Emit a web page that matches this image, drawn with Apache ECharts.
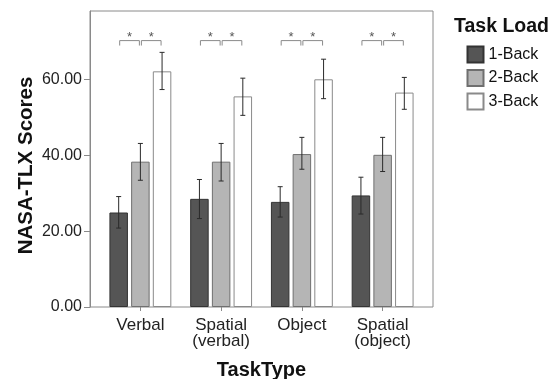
<!DOCTYPE html>
<html>
<head>
<meta charset="utf-8">
<script src="https://cdn.jsdelivr.net/npm/echarts@6/dist/echarts.min.js"></script>
<style>
  html, body { margin: 0; padding: 0; background: #fff; }
  #chart { width: 556px; height: 379px; }
</style>
</head>
<body>
<div id="chart"></div>
<script>
// Task types on the x axis and the three n-back load levels
const categories = ['Verbal', 'Spatial\n(verbal)', 'Object', 'Spatial\n(object)'];
const loads = ['1-Back', '2-Back', '3-Back'];

// Mean NASA-TLX scores per load level
const mean1Back = [24.9, 28.5, 27.7, 29.4];
const mean2Back = [38.3, 38.3, 40.3, 40.1];
const mean3Back = [62.1, 55.5, 60.0, 56.5];

// Error bar limits (lower / upper) per load level
const low1Back  = [20.8, 23.3, 23.7, 24.5];
const high1Back = [29.1, 33.6, 31.7, 34.2];
const low2Back  = [33.4, 33.2, 36.3, 35.7];
const high2Back = [43.1, 43.1, 44.7, 44.7];
const low3Back  = [57.3, 50.5, 54.9, 52.1];
const high3Back = [67.1, 60.3, 65.3, 60.5];

// Significance brackets: pairs of load levels compared within every task type
const sigPairs = [[0, 1], [1, 2]];
const sigLevel = 70.2;
const sigLabel = '*';

// Y axis ticks
const yTicks = [0, 20, 40, 60];
const yMax = 78;

// Bar geometry (pixels)
const barW = 18.5;
const gapPx = 3.2;

const fontFamily = '"Liberation Sans", Arial, Helvetica, sans-serif';

const means = [mean1Back, mean2Back, mean3Back];
const lows = [low1Back, low2Back, low3Back];
const highs = [high1Back, high2Back, high3Back];
const fills = ['#555555', '#b5b5b5', '#ffffff'];
const borders = ['#333333', '#6f6f6f', '#8a8a8a'];

const chart = echarts.init(document.getElementById('chart'), null, { renderer: 'canvas' });

const barSeries = loads.map((name, i) => ({
  name: name,
  type: 'bar',
  xAxisIndex: 1,
  yAxisIndex: 1,
  barWidth: barW,
  barGap: (gapPx / barW * 100).toFixed(1) + '%',
  itemStyle: { color: fills[i], borderColor: borders[i], borderWidth: 1 },
  emphasis: { disabled: true },
  data: means[i],
  z: 2
}));

const errorSeries = loads.map((name, i) => ({
  type: 'custom',
  xAxisIndex: 1,
  yAxisIndex: 1,
  z: 5,
  silent: true,
  encode: { x: 0, y: [1, 2] },
  data: categories.map((c, k) => [k, lows[i][k], highs[i][k]]),
  renderItem: function (params, api) {
    const off = (i - 1) * (barW + gapPx);
    const pLo = api.coord([api.value(0), api.value(1)]);
    const pHi = api.coord([api.value(0), api.value(2)]);
    const x = pLo[0] + off;
    const cap = 2.5;
    const style = { stroke: '#2a2a2a', lineWidth: 1 };
    return {
      type: 'group',
      children: [
        { type: 'line', shape: { x1: x, y1: pLo[1], x2: x, y2: pHi[1] }, style: style },
        { type: 'line', shape: { x1: x - cap, y1: pLo[1], x2: x + cap, y2: pLo[1] }, style: style },
        { type: 'line', shape: { x1: x - cap, y1: pHi[1], x2: x + cap, y2: pHi[1] }, style: style }
      ]
    };
  }
}));

const bracketData = [];
categories.forEach((c, k) => {
  sigPairs.forEach(p => bracketData.push([k, p[0], p[1], sigLevel]));
});

const bracketSeries = {
  type: 'custom',
  xAxisIndex: 1,
  yAxisIndex: 1,
  z: 6,
  silent: true,
  encode: { x: 0, y: 3 },
  data: bracketData,
  renderItem: function (params, api) {
    const step = barW + gapPx;
    const top = api.coord([api.value(0), api.value(3)]);
    const legEnd = api.coord([api.value(0), api.value(3) - 1.3])[1];
    const xa = top[0] + (api.value(1) - 1) * step + 1;
    const xb = top[0] + (api.value(2) - 1) * step - 1;
    return {
      type: 'group',
      children: [
        {
          type: 'polyline',
          shape: { points: [[xa, legEnd], [xa, top[1]], [xb, top[1]], [xb, legEnd]] },
          style: { stroke: '#8a8a8a', lineWidth: 1, fill: null }
        },
        {
          type: 'text',
          style: {
            text: sigLabel,
            x: (xa + xb) / 2,
            y: top[1] + 3,
            align: 'center',
            verticalAlign: 'bottom',
            fontSize: 13,
            fontFamily: fontFamily,
            fill: '#555'
          }
        }
      ]
    };
  }
};

const option = {
  animation: false,
  backgroundColor: '#ffffff',
  textStyle: { fontFamily: fontFamily },
  title: {
    text: 'Task Load',
    left: 454,
    top: 17,
    padding: 0,
    textStyle: { fontSize: 19.5, fontWeight: 'bold', color: '#111', fontFamily: fontFamily }
  },
  legend: {
    data: loads,
    orient: 'vertical',
    left: 466.5,
    top: 45.5,
    padding: 0,
    itemWidth: 16,
    itemHeight: 16,
    itemGap: 5.5,
    icon: 'rect',
    selectedMode: false,
    textStyle: { fontSize: 16, color: '#111', fontFamily: fontFamily }
  },
  grid: [
    // outer frame carrying the value axis
    { left: 90, right: 123, top: 11, bottom: 72, outerBoundsMode: 'none', containLabel: false, show: true, borderColor: '#8a8a8a', borderWidth: 1, backgroundColor: 'transparent' },
    // inner band holding the grouped bars
    { left: 100, right: 133, top: 11, bottom: 72, outerBoundsMode: 'none', containLabel: false }
  ],
  xAxis: [
    { gridIndex: 0, type: 'value', show: false, min: 0, max: 1 },
    {
      gridIndex: 1,
      type: 'category',
      data: categories,
      axisLine: { show: false },
      axisTick: { show: true, alignWithLabel: true, length: 4, lineStyle: { color: '#8a8a8a' } },
      axisLabel: { fontSize: 17, color: '#222', lineHeight: 16, margin: 10, fontFamily: fontFamily },
      name: 'TaskType',
      nameLocation: 'middle',
      nameGap: 53,
      nameMoveOverlap: false,
      nameTextStyle: { fontSize: 20, fontWeight: 'bold', color: '#111', fontFamily: fontFamily }
    }
  ],
  yAxis: [
    {
      gridIndex: 0,
      type: 'value',
      min: 0,
      max: yMax,
      axisLine: { show: true, lineStyle: { color: '#8a8a8a' } },
      axisTick: { show: true, length: 6, lineStyle: { color: '#8a8a8a' }, customValues: yTicks },
      axisLabel: {
        fontSize: 16, color: '#222', margin: 8, fontFamily: fontFamily,
        customValues: yTicks,
        formatter: v => v.toFixed(2)
      },
      splitLine: { show: false },
      name: 'NASA-TLX Scores',
      nameLocation: 'middle',
      nameGap: 53,
      nameMoveOverlap: false,
      nameTextStyle: { fontSize: 20.5, fontWeight: 'bold', color: '#111', fontFamily: fontFamily, padding: [0, 13, 0, 0] }
    },
    { gridIndex: 1, type: 'value', min: 0, max: yMax, show: false, splitLine: { show: false } }
  ],
  series: [].concat(barSeries, errorSeries, [bracketSeries])
};

chart.setOption(option);
</script>
</body>
</html>
